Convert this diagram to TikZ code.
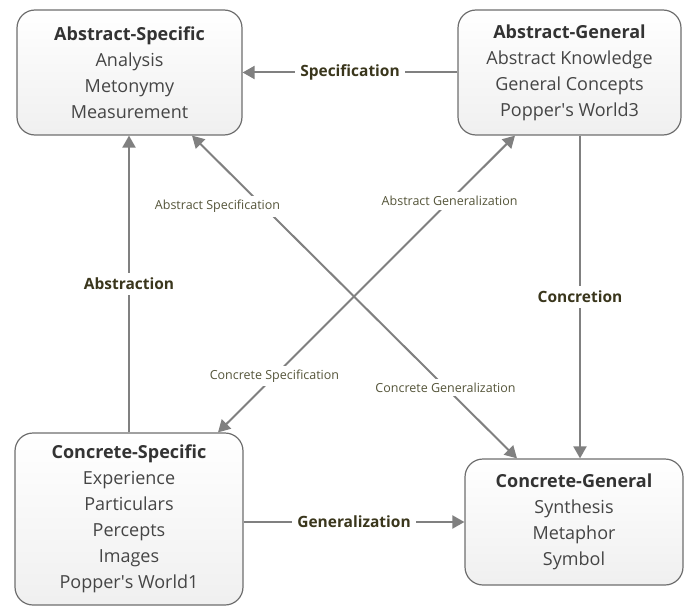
\documentclass[tikz,border=0pt]{standalone}
\usepackage{fontspec}
\setmainfont{Open Sans}
\usetikzlibrary{arrows.meta}
\definecolor{linegray}{HTML}{808080}
\definecolor{boxline}{HTML}{6E6E6E}
\definecolor{titletext}{HTML}{333333}
\definecolor{itemtext}{HTML}{454545}
\definecolor{reltext}{HTML}{3A361C}
\definecolor{smalltext}{HTML}{55553A}
\begin{document}
\begin{tikzpicture}[x=1pt, y=-1pt, >={Triangle[length=12pt,width=13pt]},
  box/.style={draw=boxline, line width=1.2pt, rounded corners=18pt, top color=white, bottom color=black!6,
    align=center, text=itemtext, font=\fontsize{18}{26}\selectfont, inner sep=0pt},
  rel/.style={draw=linegray, line width=2pt},
  lbl/.style={fill=white, inner sep=5pt, text=reltext, font=\fontsize{15.5}{18}\selectfont\bfseries},
  small/.style={fill=white, inner sep=4pt, text=smalltext, font=\fontsize{12.5}{14}\selectfont}]
  \useasboundingbox (0,0) rectangle (685,607);
  \node[box, minimum width=225pt, minimum height=125pt] (as) at (129.5,72.5)
    {\textbf{\color{titletext}Abstract-Specific}\\Analysis\\Metonymy\\Measurement};
  \node[box, minimum width=223pt, minimum height=125pt] (ag) at (569.5,72.5)
    {\textbf{\color{titletext}Abstract-General}\\Abstract Knowledge\\General Concepts\\Popper\textquotesingle s World3};
  \node[box, minimum width=228pt, minimum height=172pt] (cs) at (129,519)
    {\textbf{\color{titletext}Concrete-Specific}\\Experience\\Particulars\\Percepts\\Images\\Popper\textquotesingle s World1};
  \node[box, minimum width=218pt, minimum height=126pt] (cg) at (574,522)
    {\textbf{\color{titletext}Concrete-General}\\Synthesis\\Metaphor\\Symbol};
  % straight relations
  \draw[rel, ->] (ag.west) -- node[lbl] {Specification} (as.east);
  \draw[rel, ->] (cs.north) -- node[lbl] {Abstraction} (cs.north |- as.south);
  \draw[rel, ->] ([xshift=10.5pt]ag.south) -- node[lbl] {Concretion} ([xshift=10.5pt]ag.south |- cg.north);
  \draw[rel, ->] (cs.east |- cg.west) -- node[lbl] {Generalization} (cg.west);
  % diagonals
  \draw[rel, <->] ([xshift=62.5pt]as.south) -- node[small, pos=0.22, xshift=-46pt] {Abstract Specification}
    node[small, pos=0.78] {Concrete Generalization} ([xshift=-57pt]cg.north);
  \draw[rel, <->] ([xshift=-54.5pt]ag.south) -- node[small, pos=0.22] {Abstract Generalization}
    node[small, pos=0.81] {Concrete Specification} ([xshift=89pt]cs.north);
\end{tikzpicture}
\end{document}
